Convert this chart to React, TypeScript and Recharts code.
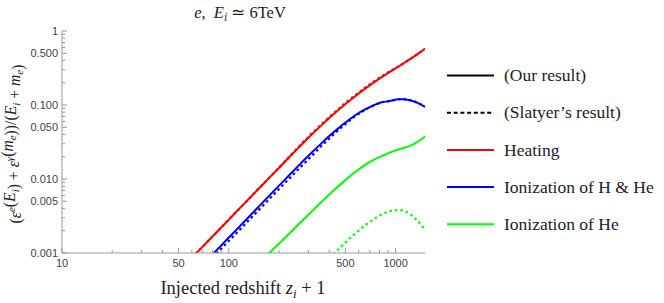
import React from 'react';
import { LineChart, Line, XAxis, YAxis } from 'recharts';

// injected redshift z_i + 1
const redshift = [60, 64, 70, 80, 90, 100, 120, 150, 175, 200, 230, 250, 300, 364, 400, 431, 500, 575, 660, 700, 760, 800, 830, 900, 1000, 1040, 1100, 1200, 1300, 1400, 1500];

const heatingOurs = [0.00086, 0.001, 0.00123, 0.00168, 0.00221, 0.00283, 0.00433, 0.00728, 0.01042, 0.01422, 0.01965, 0.0238, 0.036, 0.0547, 0.0665, 0.0773, 0.103, 0.1324, 0.1675, 0.1845, 0.21, 0.227, 0.2399, 0.2698, 0.3126, 0.3304, 0.358, 0.4064, 0.4581, 0.514, 0.574];
const heatingSlatyer = [0.00086, 0.001, 0.00123, 0.00168, 0.00221, 0.00283, 0.00433, 0.00728, 0.01042, 0.01422, 0.0199, 0.0243, 0.0371, 0.0564, 0.0685, 0.0796, 0.1061, 0.1364, 0.1725, 0.19, 0.2163, 0.2338, 0.2459, 0.2752, 0.3157, 0.3320, 0.358, 0.4064, 0.4581, 0.514, 0.574];

const ionHHeOurs = [null, null, 0.000705, 0.000962, 0.001265, 0.001618, 0.00247, 0.00416, 0.00596, 0.00813, 0.01122, 0.01361, 0.02056, 0.03126, 0.038, 0.044, 0.0579, 0.0733, 0.0877, 0.0938, 0.1019, 0.1064, 0.1094, 0.112, 0.118, 0.1195, 0.1198, 0.117, 0.111, 0.103, 0.0945];
const ionHHeSlatyer = [null, null, null, 0.000866, 0.001139, 0.001456, 0.002223, 0.003744, 0.005364, 0.007317, 0.0101, 0.01225, 0.0185, 0.02876, 0.03534, 0.04136, 0.0553, 0.0711, 0.0864, 0.0929, 0.1019, 0.1064, 0.1094, 0.112, 0.118, 0.1195, 0.1198, 0.117, 0.111, 0.103, 0.0945];

const ionHeOurs = [null, null, null, null, null, null, null, 0.00071, 0.001, 0.00134, 0.00182, 0.00219, 0.00329, 0.00503, 0.00617, 0.0072, 0.00966, 0.0125, 0.01563, 0.017, 0.01875, 0.0198, 0.0205, 0.0222, 0.0244, 0.0251, 0.026, 0.0276, 0.0301, 0.0334, 0.0376];
const ionHeSlatyer = [null, null, null, null, null, null, null, null, null, null, null, null, null, null, 0.00085, 0.001, 0.00139, 0.00185, 0.00238, 0.00262, 0.00298, 0.0032, 0.00335, 0.0036, 0.0038, 0.0038, 0.00375, 0.00345, 0.00298, 0.0025, 0.00207];

const xMajor = [10, 50, 100, 500, 1000];
const xMinor = [20, 30, 40, 60, 70, 80, 90, 200, 300, 400, 600, 700, 800, 900];
const xLabels: Record<number, string> = { 10: '10', 50: '50', 100: '100', 500: '500', 1000: '1000' };

const yMajor = [0.001, 0.005, 0.01, 0.05, 0.1, 0.5, 1];
const yMinor = [0.002, 0.003, 0.004, 0.006, 0.007, 0.008, 0.009, 0.02, 0.03, 0.04, 0.06, 0.07, 0.08, 0.09, 0.2, 0.3, 0.4, 0.6, 0.7, 0.8, 0.9];
const yLabels: Record<number, string> = { 0.001: '0.001', 0.005: '0.005', 0.01: '0.010', 0.05: '0.050', 0.1: '0.100', 0.5: '0.500', 1: '1' };

const legendLabels = ['(Our result)', '(Slatyer\u2019s result)', 'Heating', 'Ionization of H & He', 'Ionization of He'];
const legendColors = ['#000000', '#000000', '#ff0000', '#0000ff', '#00ff00'];
const legendDashed = [false, true, false, false, false];

const rows = redshift.map((z, i) => ({
  z,
  heat: heatingOurs[i],
  heatS: heatingSlatyer[i],
  ion: ionHHeOurs[i],
  ionS: ionHHeSlatyer[i],
  he: ionHeOurs[i],
  heS: ionHeSlatyer[i],
}));

const FRAME = '#9a9a9a';
const TICK_TEXT = '#444';
const SERIF = 'Liberation Serif';
const SANS = 'Liberation Sans';

const xTicks = [...xMajor, ...xMinor].sort((a, b) => a - b);
const yTicks = [...yMajor, ...yMinor].sort((a, b) => a - b);

const makeTick = (side: 'bottom' | 'top' | 'left' | 'right') => (props: any) => {
  const { x, y, payload } = props;
  const v = payload.value;
  const major = side === 'bottom' || side === 'top' ? xMajor.includes(v) : yMajor.includes(v);
  const len = major ? 5 : 3;
  let line = null;
  let label = null;
  if (side === 'bottom') {
    line = <line x1={x} y1={y} x2={x} y2={y - len} stroke={FRAME} />;
    if (xLabels[v]) label = <text x={x} y={y + 14} textAnchor="middle" fontSize={11} fontFamily={SANS} fill={TICK_TEXT}>{xLabels[v]}</text>;
  } else if (side === 'top') {
    line = <line x1={x} y1={y} x2={x} y2={y + len} stroke={FRAME} />;
  } else if (side === 'left') {
    line = <line x1={x} y1={y} x2={x + len} y2={y} stroke={FRAME} />;
    if (yLabels[v]) label = <text x={x - 4} y={y + 4} textAnchor="end" fontSize={11} fontFamily={SANS} fill={TICK_TEXT}>{yLabels[v]}</text>;
  } else {
    line = <line x1={x} y1={y} x2={x - len} y2={y} stroke={FRAME} />;
  }
  return (
    <g>
      {line}
      {label}
    </g>
  );
};

const it = { fontStyle: 'italic' as const };

const YLabel = () => {
  const sup = (t: string) => [
    <tspan key={t + 'a'} dy={-6} fontSize={11} {...it}>{t}</tspan>,
    <tspan key={t + 'b'} dy={6}>{''}</tspan>,
  ];
  const sub = (t: string, k: string) => [
    <tspan key={k + 'a'} dy={3.5} fontSize={11} {...it}>{t}</tspan>,
    <tspan key={k + 'b'} dy={-3.5}>{''}</tspan>,
  ];
  return (
    <text transform="translate(21,144) rotate(-90)" textAnchor="middle" fontSize={15.7} fontFamily={SERIF} fill="#222">
      <tspan>(</tspan>
      <tspan {...it}>ε</tspan>
      {sup('e')}
      <tspan>(</tspan>
      <tspan {...it}>E</tspan>
      {sub('i', 's1')}
      <tspan>{')\u00a0+\u00a0'}</tspan>
      <tspan {...it}>ε</tspan>
      {sup('γ')}
      <tspan>(</tspan>
      <tspan {...it}>m</tspan>
      {sub('e', 's2')}
      <tspan>{'))/('}</tspan>
      <tspan {...it}>E</tspan>
      {sub('i', 's3')}
      <tspan>{'\u00a0+\u00a0'}</tspan>
      <tspan {...it}>m</tspan>
      {sub('e', 's4')}
      <tspan>)</tspan>
    </text>
  );
};

const Overlay = () => (
  <svg width={664} height={303} style={{ position: 'absolute', left: 0, top: 0, pointerEvents: 'none' }}>
    <text x={240} y={18} textAnchor="middle" fontSize={16.5} fontFamily={SERIF} fill="#222">
      <tspan {...it}>e</tspan>
      <tspan>{',\u00a0\u00a0'}</tspan>
      <tspan {...it}>E</tspan>
      <tspan dy={3} fontSize={11.5} {...it}>i</tspan>
      <tspan dy={-3}>{'\u00a0≃\u00a06TeV'}</tspan>
    </text>
    <text x={243} y={294} textAnchor="middle" fontSize={18.5} fontFamily={SERIF} fill="#222">
      <tspan>{'Injected redshift\u00a0'}</tspan>
      <tspan {...it}>z</tspan>
      <tspan dy={4} fontSize={13} {...it}>i</tspan>
      <tspan dy={-4}>{'\u00a0+\u00a01'}</tspan>
    </text>
    <YLabel />
    {legendLabels.map((lab, i) => {
      const cy = 75.5 + i * 37.2;
      return (
        <g key={lab}>
          <line x1={447} x2={494} y1={cy} y2={cy} stroke={legendColors[i]} strokeWidth={2} strokeDasharray={legendDashed[i] ? '4 2.7' : undefined} />
          <text x={504} y={cy + 5.7} fontSize={17.5} fontFamily={SERIF} fill="#222">{lab}</text>
        </g>
      );
    })}
  </svg>
);

export default function App() {
  return (
    <div style={{ position: 'absolute', left: 0, top: 0, width: 664, height: 303, background: '#fff' }}>
      <LineChart width={664} height={303} data={rows} margin={{ top: 31, right: 239, bottom: 20, left: 2 }}>
        <XAxis xAxisId="b" dataKey="z" type="number" scale="log" domain={[10, 1500]} allowDataOverflow
          ticks={xTicks} interval={0} tickLine={false} tickSize={0} tickMargin={0} height={30}
          axisLine={{ stroke: FRAME }} tick={makeTick('bottom')} />
        <XAxis xAxisId="t" orientation="top" dataKey="z" type="number" scale="log" domain={[10, 1500]} allowDataOverflow
          ticks={xTicks} interval={0} tickLine={false} tickSize={0} tickMargin={0} height={0}
          axisLine={{ stroke: FRAME }} tick={makeTick('top')} />
        <YAxis yAxisId="l" type="number" scale="log" domain={[0.001, 1]} allowDataOverflow
          ticks={yTicks} interval={0} tickLine={false} tickSize={0} tickMargin={0} width={60}
          axisLine={{ stroke: FRAME }} tick={makeTick('left')} />
        <YAxis yAxisId="r" orientation="right" type="number" scale="log" domain={[0.001, 1]} allowDataOverflow
          ticks={yTicks} interval={0} tickLine={false} tickSize={0} tickMargin={0} width={0}
          axisLine={{ stroke: FRAME }} tick={makeTick('right')} />

        <Line xAxisId="b" yAxisId="l" dataKey="heat" type="monotone" stroke="#ff0000" strokeWidth={2} dot={false} activeDot={false} isAnimationActive={false} />
        <Line xAxisId="b" yAxisId="l" dataKey="ion" type="monotone" stroke="#0000ff" strokeWidth={2} dot={false} activeDot={false} isAnimationActive={false} />
        <Line xAxisId="b" yAxisId="l" dataKey="he" type="monotone" stroke="#00ff00" strokeWidth={2} dot={false} activeDot={false} isAnimationActive={false} />
        <Line xAxisId="b" yAxisId="l" dataKey="heatS" type="monotone" stroke="#ff0000" strokeWidth={2.2} strokeDasharray="2.5 3" dot={false} activeDot={false} isAnimationActive={false} />
        <Line xAxisId="b" yAxisId="l" dataKey="ionS" type="monotone" stroke="#0000ff" strokeWidth={2.2} strokeDasharray="2.5 3" dot={false} activeDot={false} isAnimationActive={false} />
        <Line xAxisId="b" yAxisId="l" dataKey="heS" type="monotone" stroke="#00ff00" strokeWidth={2.2} strokeDasharray="2.5 3" dot={false} activeDot={false} isAnimationActive={false} />
      </LineChart>
      <Overlay />
    </div>
  );
}
